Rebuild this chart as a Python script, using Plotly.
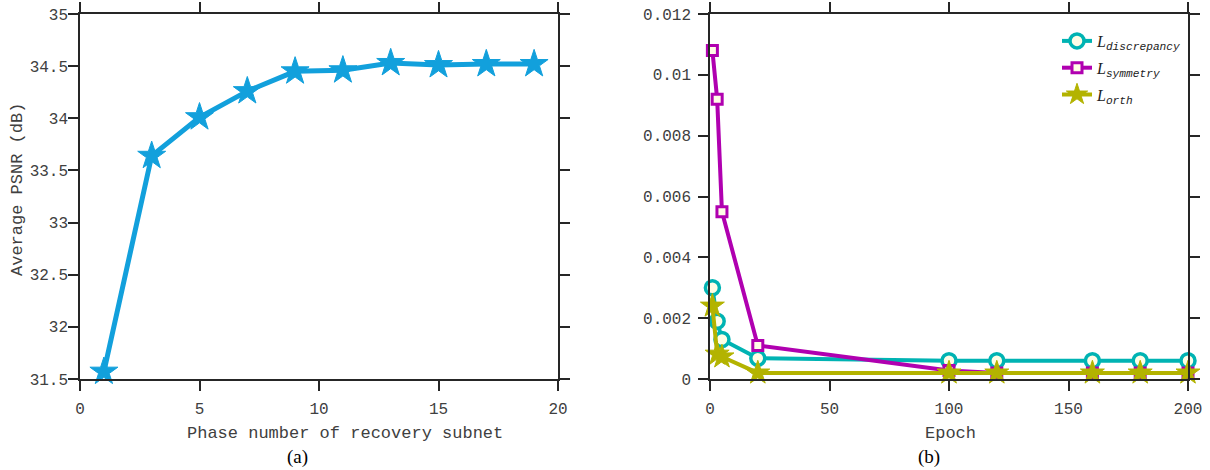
import plotly.graph_objects as go

# ---- data: panel (a) ----
phase_num = [1, 3, 5, 7, 9, 11, 13, 15, 17, 19]
avg_psnr = [31.57, 33.64, 34.01, 34.26, 34.45, 34.46, 34.53, 34.51, 34.52, 34.52]

a_xticks = [0, 5, 10, 15, 20]
a_yticks = [31.5, 32, 32.5, 33, 33.5, 34, 34.5, 35]
a_yticktext = ["31.5", "32", "32.5", "33", "33.5", "34", "34.5", "35"]

# ---- data: panel (b) ----
epochs = [1, 3, 5, 20, 100, 120, 160, 180, 200]
loss_discrepancy = [0.0030, 0.0019, 0.0013, 0.00068, 0.0006, 0.0006, 0.0006, 0.0006, 0.0006]
loss_symmetry = [0.0108, 0.0092, 0.0055, 0.0011, 0.00028, 0.0002, 0.0002, 0.0002, 0.0002]
loss_orth = [0.0024, 0.00082, 0.00073, 0.0002, 0.0002, 0.0002, 0.0002, 0.0002, 0.0002]

b_xticks = [0, 50, 100, 150, 200]
b_yticks = [0, 0.002, 0.004, 0.006, 0.008, 0.01, 0.012]
b_yticktext = ["0", "0.002", "0.004", "0.006", "0.008", "0.01", "0.012"]

W, H = 1210, 470
MONO = "Liberation Mono"
SERIF = "Liberation Serif"
AX = "#262626"
TK = "#404040"
FILL = "#fffde6"

BLUE = "#12a0dc"
TEAL = "#00b3b3"
PURP = "#b000b0"
OLIVE = "#b3b300"


def px_x(p):
    return p / W


def px_y(p):
    return (H - p) / H


fig = go.Figure()

fig.add_trace(go.Scatter(
    x=phase_num, y=avg_psnr, mode="lines+markers",
    line=dict(color=BLUE, width=5),
    marker=dict(symbol="star", size=21, color=BLUE, line=dict(color=BLUE, width=1)),
    xaxis="x", yaxis="y", showlegend=False, cliponaxis=False,
))

leg_sub = "<i>L</i><sub><span style=\"font-family:Liberation Mono\"><i>{}</i></span></sub>"

fig.add_trace(go.Scatter(
    x=epochs, y=loss_discrepancy, mode="lines+markers", name=leg_sub.format("discrepancy"),
    legendgroup="g1",
    line=dict(color=TEAL, width=4),
    marker=dict(symbol="circle", size=14, color=FILL, line=dict(color=TEAL, width=3.5)),
    xaxis="x2", yaxis="y2", cliponaxis=False,
))
fig.add_trace(go.Scatter(
    x=epochs, y=loss_symmetry, mode="lines+markers", name=leg_sub.format("symmetry"),
    legendgroup="g2",
    line=dict(color=PURP, width=4),
    marker=dict(symbol="square", size=10, color=FILL, line=dict(color=PURP, width=3)),
    xaxis="x2", yaxis="y2", cliponaxis=False,
))
fig.add_trace(go.Scatter(
    x=epochs, y=loss_orth, mode="lines+markers", name=leg_sub.format("orth"),
    legendgroup="g3",
    line=dict(color=OLIVE, width=4),
    marker=dict(symbol="star", size=18, color=OLIVE, line=dict(color=OLIVE, width=1)),
    xaxis="x2", yaxis="y2", cliponaxis=False,
))

axis_common = dict(
    showline=True, linecolor=AX, linewidth=1.5, mirror="allticks",
    ticks="outside", ticklen=10, tickwidth=1.5, tickcolor=AX,
    showgrid=False, zeroline=False, automargin=False,
    tickfont=dict(family=MONO, size=16, color=TK),
)

ydom = [px_y(379), px_y(14)]

fig.update_layout(
    width=W, height=H,
    margin=dict(l=0, r=0, t=0, b=0, autoexpand=False),
    paper_bgcolor="white", plot_bgcolor="white",
    xaxis=dict(domain=[px_x(80), px_x(558)], range=[0, 20], anchor="y",
               tickvals=a_xticks, ticklabelstandoff=4, **axis_common),
    yaxis=dict(domain=ydom, range=[31.5, 35], anchor="x",
               tickvals=a_yticks, ticktext=a_yticktext, ticklabelstandoff=-3, **axis_common),
    xaxis2=dict(domain=[px_x(710), px_x(1188)], range=[0, 200], anchor="y2",
                tickvals=b_xticks, ticklabelstandoff=4, **axis_common),
    yaxis2=dict(domain=ydom, range=[0, 0.012], anchor="x2",
                tickvals=b_yticks, ticktext=b_yticktext, ticklabelstandoff=4, **axis_common),
    legend=dict(x=px_x(1057), y=px_y(24), xanchor="left", yanchor="top",
                bgcolor="rgba(0,0,0,0)", borderwidth=0,
                font=dict(family=SERIF, size=16, color="#222"),
                tracegroupgap=3),
    showlegend=True,
)

annos = [
    dict(text="Phase number of recovery subnet", x=px_x(345), y=px_y(433),
         font=dict(family=MONO, size=17, color=TK)),
    dict(text="(a)", x=px_x(297), y=px_y(457),
         font=dict(family=SERIF, size=19, color="black")),
    dict(text="Epoch", x=px_x(950), y=px_y(433),
         font=dict(family=MONO, size=17, color=TK)),
    dict(text="(b)", x=px_x(929), y=px_y(457),
         font=dict(family=SERIF, size=19, color="black")),
    dict(text="Average PSNR (dB)", x=px_x(17), y=px_y(190), textangle=-90,
         font=dict(family=MONO, size=17, color=TK)),
]
for a in annos:
    fig.add_annotation(xref="paper", yref="paper", showarrow=False,
                       xanchor="center", yanchor="middle", **a)

fig.write_html(
    "out.html",
    config={"displayModeBar": False},
    post_script="document.body.style.margin='0';document.body.style.overflow='hidden';",
)
